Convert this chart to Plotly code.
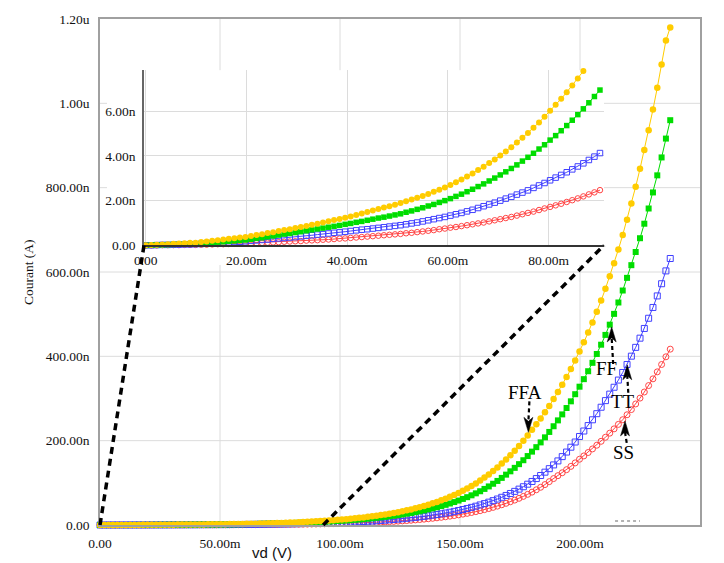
import plotly.graph_objects as go

# ---------------- data (x in mV, current in nA) ----------------
X_MAIN_MV = [0.0, 1.8, 3.6, 5.4, 7.2, 9.0, 10.8, 12.6, 14.4, 16.2,
             18.0, 19.8, 21.6, 23.4, 25.2, 27.0, 28.8, 30.6, 32.4, 34.2,
             36.0, 37.8, 39.6, 41.4, 43.2, 45.0, 46.8, 48.6, 50.4, 52.2,
             54.0, 55.8, 57.6, 59.4, 61.2, 63.0, 64.8, 66.6, 68.4, 70.2,
             72.0, 73.8, 75.6, 77.4, 79.2, 81.0, 82.8, 84.6, 86.4, 88.2,
             90.0, 91.8, 93.6, 95.4, 97.2, 99.0, 100.8, 102.6, 104.4, 106.2,
             108.0, 109.8, 111.6, 113.4, 115.2, 117.0, 118.8, 120.6, 122.4, 124.2,
             126.0, 127.8, 129.6, 131.4, 133.2, 135.0, 136.8, 138.6, 140.4, 142.2,
             144.0, 145.8, 147.6, 149.4, 151.2, 153.0, 154.8, 156.6, 158.4, 160.2,
             162.0, 163.8, 165.6, 167.4, 169.2, 171.0, 172.8, 174.6, 176.4, 178.2,
             180.0, 181.8, 183.6, 185.4, 187.2, 189.0, 190.8, 192.6, 194.4, 196.2,
             198.0, 199.8, 201.6, 203.4, 205.2, 207.0, 208.8, 210.6, 212.4, 214.2,
             216.0, 217.8, 219.6, 221.4, 223.2, 225.0, 226.8, 228.6, 230.4, 232.2,
             234.0, 235.8, 237.6]

FFA_MAIN_NA = [0, 0.02, 0.04, 0.06, 0.09, 0.11, 0.14, 0.19, 0.23, 0.28,
               0.33, 0.37, 0.44, 0.52, 0.59, 0.66, 0.73, 0.81, 0.89, 0.98,
               1.06, 1.15, 1.23, 1.33, 1.44, 1.55, 1.66, 1.77, 1.87, 2.00,
               2.14, 2.28, 2.43, 2.59, 2.78, 2.99, 3.21, 3.45, 3.71, 3.98,
               4.29, 4.62, 4.97, 5.35, 5.76, 6.19, 6.64, 7.12, 7.64, 8.20,
               8.80, 9.39, 10.03, 10.71, 11.43, 12.20, 13.03, 13.90, 14.84, 15.85,
               16.92, 18.06, 19.28, 20.58, 21.97, 23.45, 25.03, 26.72, 28.53, 30.45,
               32.51, 34.71, 37.05, 39.55, 42.22, 45.07, 48.11, 51.36, 54.83, 58.53,
               62.48, 66.70, 71.20, 76.01, 81.14, 86.62, 92.47, 98.71, 105.4, 112.5,
               120.0, 128.1, 136.6, 145.8, 155.5, 165.7, 176.3, 187.6, 199.7, 212.5,
               226.1, 239.0, 252.7, 267.2, 282.5, 298.7, 315.5, 332.7, 350.8, 369.9,
               390.1, 411.4, 433.5, 456.3, 480.4, 505.6, 532.2, 560.3, 589.8, 620.8,
               653.5, 687.9, 724.1, 762.2, 802.3, 844.6, 889.1, 935.9, 985.1, 1037.0,
               1092.0, 1149.0, 1180.0]

FF_MAIN_NA = [0, 0.01, 0.02, 0.04, 0.05, 0.06, 0.08, 0.11, 0.14, 0.17,
              0.21, 0.24, 0.29, 0.36, 0.42, 0.48, 0.54, 0.60, 0.67, 0.74,
              0.80, 0.87, 0.94, 1.01, 1.09, 1.17, 1.24, 1.32, 1.40, 1.51,
              1.62, 1.74, 1.86, 2.00, 2.15, 2.32, 2.50, 2.69, 2.90, 3.13,
              3.36, 3.62, 3.89, 4.18, 4.50, 4.84, 5.19, 5.58, 5.99, 6.43,
              6.90, 7.36, 7.85, 8.37, 8.93, 9.53, 10.16, 10.84, 11.56, 12.33,
              13.15, 14.03, 14.96, 15.96, 17.02, 18.16, 19.37, 20.66, 22.04, 23.50,
              25.07, 26.74, 28.52, 30.42, 32.45, 34.61, 36.92, 39.38, 42.00, 44.80,
              47.79, 50.97, 54.37, 57.99, 61.86, 65.98, 70.38, 75.07, 80.07, 85.6,
              91.5, 97.8, 104.5, 111.7, 119.4, 127.3, 135.5, 144.3, 153.6, 163.5,
              174.0, 184.6, 195.9, 207.9, 220.7, 234.2, 248.1, 262.3, 277.4, 293.3,
              310.2, 328.0, 345.9, 364.7, 384.6, 405.6, 427.6, 450.8, 475.1, 500.7,
              527.7, 556.1, 586.1, 616.2, 647.4, 680.1, 714.5, 750.6, 788.7, 829.2,
              871.7, 916.4, 960.0]

TT_MAIN_NA = [0, 0.01, 0.02, 0.03, 0.04, 0.04, 0.06, 0.08, 0.11, 0.13,
              0.15, 0.18, 0.21, 0.25, 0.28, 0.32, 0.36, 0.39, 0.44, 0.48,
              0.52, 0.57, 0.61, 0.66, 0.70, 0.75, 0.80, 0.84, 0.89, 0.96,
              1.03, 1.10, 1.18, 1.27, 1.37, 1.47, 1.59, 1.71, 1.84, 1.98,
              2.13, 2.28, 2.44, 2.61, 2.79, 2.98, 3.18, 3.39, 3.61, 3.85,
              4.10, 4.37, 4.66, 4.98, 5.31, 5.66, 6.04, 6.44, 6.87, 7.33,
              7.82, 8.34, 8.89, 9.49, 10.12, 10.79, 11.51, 12.28, 13.10, 13.97,
              14.90, 15.89, 16.95, 18.08, 19.29, 20.57, 21.94, 23.41, 24.97, 26.63,
              28.40, 30.30, 32.32, 34.47, 36.77, 39.22, 41.83, 44.62, 47.59, 50.76,
              54.15, 57.76, 61.61, 65.71, 70.09, 74.76, 79.75, 85.06, 90.73, 96.78,
              103.2, 110.1, 117.4, 125.3, 133.6, 142.5, 152.0, 162.2, 173.0, 184.5,
              196.8, 209.9, 222.9, 235.8, 249.5, 264.0, 279.3, 295.0, 310.4, 326.7,
              343.7, 361.7, 380.7, 400.4, 421.3, 443.1, 466.1, 490.3, 515.9, 543.3,
              572.2, 602.6, 632.0]

SS_MAIN_NA = [0, 0.00, 0.01, 0.01, 0.01, 0.02, 0.02, 0.04, 0.05, 0.06,
              0.07, 0.08, 0.10, 0.11, 0.13, 0.15, 0.17, 0.19, 0.21, 0.24,
              0.26, 0.29, 0.31, 0.35, 0.38, 0.41, 0.44, 0.47, 0.51, 0.55,
              0.59, 0.64, 0.69, 0.75, 0.81, 0.87, 0.93, 1.00, 1.08, 1.16,
              1.24, 1.33, 1.43, 1.54, 1.65, 1.76, 1.88, 2.01, 2.15, 2.29,
              2.45, 2.63, 2.81, 3.02, 3.23, 3.46, 3.71, 3.98, 4.26, 4.57,
              4.89, 5.24, 5.62, 6.02, 6.45, 6.92, 7.41, 7.94, 8.51, 9.12,
              9.78, 10.48, 11.23, 12.03, 12.89, 13.82, 14.81, 15.87, 17.00, 18.22,
              19.53, 20.93, 22.43, 24.03, 25.75, 27.60, 29.58, 31.70, 33.97, 36.40,
              39.01, 41.80, 44.80, 48.01, 51.45, 55.13, 59.08, 63.31, 67.85, 72.71,
              77.92, 83.50, 89.48, 95.89, 102.8, 110.1, 117.0, 123.9, 131.2, 139.0,
              147.3, 156.0, 163.8, 171.9, 180.4, 189.2, 198.5, 208.1, 217.8, 228.0,
              238.6, 249.7, 261.4, 273.8, 287.1, 300.9, 315.4, 330.7, 346.6, 363.2,
              380.6, 398.9, 417.0]

X_INSET_MV = [0.0, 1.1, 2.2, 3.3, 4.4, 5.5, 6.6, 7.7, 8.8, 9.9,
              11.0, 12.1, 13.2, 14.3, 15.4, 16.5, 17.6, 18.7, 19.8, 20.9,
              22.0, 23.1, 24.2, 25.3, 26.4, 27.5, 28.6, 29.7, 30.8, 31.9,
              33.0, 34.1, 35.2, 36.3, 37.4, 38.5, 39.6, 40.7, 41.8, 42.9,
              44.0, 45.1, 46.2, 47.3, 48.4, 49.5, 50.6, 51.7, 52.8, 53.9,
              55.0, 56.1, 57.2, 58.3, 59.4, 60.5, 61.6, 62.7, 63.8, 64.9,
              66.0, 67.1, 68.2, 69.3, 70.4, 71.5, 72.6, 73.7, 74.8, 75.9,
              77.0, 78.1, 79.2, 80.3, 81.4, 82.5, 83.6, 84.7, 85.8, 86.9,
              88.0, 89.1, 90.2]

FFA_INSET_NA = [0, 0.01, 0.03, 0.04, 0.05, 0.07, 0.08, 0.09, 0.11, 0.12,
                0.15, 0.17, 0.20, 0.23, 0.26, 0.29, 0.32, 0.35, 0.37, 0.42,
                0.46, 0.50, 0.55, 0.59, 0.64, 0.68, 0.72, 0.77, 0.82, 0.87,
                0.92, 0.97, 1.02, 1.08, 1.13, 1.18, 1.23, 1.29, 1.36, 1.42,
                1.49, 1.56, 1.62, 1.69, 1.75, 1.82, 1.89, 1.97, 2.05, 2.13,
                2.21, 2.30, 2.40, 2.49, 2.59, 2.70, 2.82, 2.95, 3.08, 3.22,
                3.37, 3.52, 3.68, 3.84, 4.02, 4.20, 4.39, 4.60, 4.81, 5.03,
                5.26, 5.50, 5.76, 6.02, 6.29, 6.56, 6.85, 7.15, 7.47, 7.80,
                8.14, 8.50, 8.86]

FF_INSET_NA = [0, 0.01, 0.02, 0.02, 0.03, 0.04, 0.05, 0.05, 0.06, 0.07,
               0.09, 0.11, 0.12, 0.14, 0.16, 0.18, 0.20, 0.22, 0.24, 0.27,
               0.31, 0.34, 0.38, 0.42, 0.46, 0.50, 0.53, 0.57, 0.61, 0.65,
               0.69, 0.73, 0.77, 0.81, 0.85, 0.89, 0.94, 0.98, 1.03, 1.07,
               1.12, 1.17, 1.22, 1.26, 1.31, 1.36, 1.41, 1.48, 1.54, 1.61,
               1.68, 1.76, 1.83, 1.92, 2.00, 2.09, 2.19, 2.29, 2.40, 2.51,
               2.63, 2.75, 2.88, 3.01, 3.15, 3.29, 3.44, 3.60, 3.77, 3.94,
               4.12, 4.31, 4.50, 4.71, 4.91, 5.13, 5.36, 5.60, 5.85, 6.11,
               6.38, 6.66, 6.95]

TT_INSET_NA = [0, 0.00, 0.01, 0.02, 0.02, 0.03, 0.03, 0.04, 0.04, 0.05,
               0.06, 0.08, 0.09, 0.11, 0.12, 0.13, 0.15, 0.16, 0.18, 0.20,
               0.22, 0.24, 0.26, 0.29, 0.31, 0.33, 0.35, 0.37, 0.40, 0.43,
               0.45, 0.48, 0.50, 0.53, 0.56, 0.58, 0.61, 0.64, 0.67, 0.70,
               0.72, 0.75, 0.78, 0.81, 0.84, 0.87, 0.90, 0.94, 0.98, 1.02,
               1.07, 1.12, 1.17, 1.22, 1.27, 1.33, 1.39, 1.45, 1.52, 1.59,
               1.67, 1.75, 1.83, 1.91, 2.00, 2.09, 2.17, 2.27, 2.36, 2.46,
               2.57, 2.68, 2.79, 2.91, 3.03, 3.15, 3.27, 3.40, 3.53, 3.67,
               3.82, 3.97, 4.13]

SS_INSET_NA = [0, 0.00, 0.00, 0.01, 0.01, 0.01, 0.01, 0.02, 0.02, 0.02,
               0.03, 0.03, 0.04, 0.05, 0.05, 0.06, 0.07, 0.07, 0.08, 0.09,
               0.10, 0.11, 0.12, 0.13, 0.14, 0.16, 0.17, 0.18, 0.19, 0.21,
               0.22, 0.23, 0.25, 0.26, 0.28, 0.30, 0.31, 0.33, 0.35, 0.37,
               0.39, 0.41, 0.43, 0.45, 0.47, 0.49, 0.51, 0.54, 0.56, 0.59,
               0.62, 0.65, 0.68, 0.72, 0.75, 0.79, 0.82, 0.86, 0.90, 0.94,
               0.98, 1.02, 1.07, 1.12, 1.17, 1.22, 1.27, 1.33, 1.39, 1.45,
               1.51, 1.58, 1.65, 1.72, 1.79, 1.86, 1.94, 2.02, 2.10, 2.19,
               2.28, 2.37, 2.47]

SERIES_NAMES = ["SS", "TT", "FF", "FFA"]
MAIN_VALUES = {"SS": SS_MAIN_NA, "TT": TT_MAIN_NA, "FF": FF_MAIN_NA, "FFA": FFA_MAIN_NA}
INSET_VALUES = {"SS": SS_INSET_NA, "TT": TT_INSET_NA, "FF": FF_INSET_NA, "FFA": FFA_INSET_NA}

X_TICKS_MV = [0, 50, 100, 150, 200, 250]
X_TICK_TEXT = ["0.00", "50.00m", "100.00m", "150.00m", "200.00m", "250.00m"]
Y_TICKS_NA = [0, 200, 400, 600, 800, 1000, 1200]
Y_TICK_TEXT = ["0.00", "200.00n", "400.00n", "600.00n", "800.00n", "1.00u", "1.20u"]
X2_TICKS_MV = [0, 20, 40, 60, 80]
X2_TICK_TEXT = ["0.00", "20.00m", "40.00m", "60.00m", "80.00m"]
Y2_TICKS_NA = [0, 2, 4, 6]
Y2_TICK_TEXT = ["0.00", "2.00n", "4.00n", "6.00n"]

# ---------------- styling / layout ----------------
STYLE = {
    "SS": dict(color="#FF4545", symbol="circle-open", size=6),
    "TT": dict(color="#4040FF", symbol="square-open", size=6),
    "FF": dict(color="#00DD00", symbol="square", size=6),
    "FFA": dict(color="#FFCC00", symbol="circle", size=6.5),
}

W, H = 724, 563
ML, MR, MT, MB = 100, 24, 15, 36
PW, PH = W - ML - MR, H - MT - MB

X_RANGE = [0, 250]
Y_RANGE = [0, 1200]
X2_RANGE = [-0.34, 91.0]
Y2_RANGE = [0, 7.83]

# inset box in pixels
IN_L, IN_R, IN_T, IN_B = 144, 604, 67, 244
def px_to_paper_x(px):
    return (px - ML) / PW
def px_to_paper_y(py):
    return (H - MB - py) / PH

X2_DOMAIN = [px_to_paper_x(IN_L), px_to_paper_x(IN_R)]
Y2_DOMAIN = [px_to_paper_y(IN_B), px_to_paper_y(IN_T)]

SERIF = "Liberation Serif"
SANS = "Liberation Sans"

fig = go.Figure()

for name in SERIES_NAMES:
    st = STYLE[name]
    open_marker = st["symbol"].endswith("open")
    marker = dict(symbol=st["symbol"], size=st["size"], color=st["color"],
                  line=dict(width=1 if open_marker else 0, color=st["color"]))
    fig.add_trace(go.Scatter(
        x=X_MAIN_MV, y=MAIN_VALUES[name], mode="lines+markers", name=name,
        line=dict(color=st["color"], width=1), marker=marker,
        cliponaxis=False, xaxis="x", yaxis="y", showlegend=False))

for name in SERIES_NAMES:
    st = STYLE[name]
    open_marker = st["symbol"].endswith("open")
    marker = dict(symbol=st["symbol"], size=st["size"] - 0.5, color=st["color"],
                  line=dict(width=1 if open_marker else 0, color=st["color"]))
    xs, ys = [], []
    for xv, yv in zip(X_INSET_MV, INSET_VALUES[name]):
        if yv <= Y2_RANGE[1]:
            xs.append(xv)
            ys.append(yv)
    fig.add_trace(go.Scatter(
        x=xs, y=ys, mode="lines+markers", name=name + " (zoom)",
        line=dict(color=st["color"], width=1), marker=marker,
        cliponaxis=False, xaxis="x2", yaxis="y2", showlegend=False))

shapes = []
GRID = "#dcdcdc"
# main grid lines (as lower-layer shapes so that the inset panel can hide them)
for xv in X_TICKS_MV[1:-1]:
    shapes.append(dict(type="line", xref="x", yref="paper", x0=xv, x1=xv, y0=0, y1=1,
                       line=dict(color=GRID, width=1), layer="below"))
for yv in Y_TICKS_NA[1:-1]:
    shapes.append(dict(type="line", xref="paper", yref="y", x0=0, x1=1, y0=yv, y1=yv,
                       line=dict(color=GRID, width=1), layer="below"))
# white panel behind the inset (covers its tick labels too)
shapes.append(dict(type="rect", xref="paper", yref="paper",
                   x0=px_to_paper_x(107), x1=X2_DOMAIN[1],
                   y0=px_to_paper_y(264), y1=Y2_DOMAIN[1],
                   fillcolor="white", line=dict(width=0), layer="below"))
# zoom connector lines
zoom_dash = "7px,5px"
shapes.append(dict(type="line", xref="paper", yref="paper",
                   x0=(0 - X_RANGE[0]) / (X_RANGE[1] - X_RANGE[0]), y0=0,
                   x1=X2_DOMAIN[0], y1=Y2_DOMAIN[0],
                   line=dict(color="black", width=3.5, dash=zoom_dash), layer="above"))
shapes.append(dict(type="line", xref="paper", yref="paper",
                   x0=(X2_RANGE[1] + 2 - X_RANGE[0]) / (X_RANGE[1] - X_RANGE[0]), y0=0,
                   x1=X2_DOMAIN[1], y1=Y2_DOMAIN[0],
                   line=dict(color="black", width=3.5, dash=zoom_dash), layer="above"))
# small grey dash remnant near the bottom right
shapes.append(dict(type="line", xref="x", yref="y", x0=214.6, x1=225.0, y0=9.4, y1=9.4,
                   line=dict(color="#9a9a9a", width=1.5, dash="3px,3px")))

annotations = []
# corner labels with dashed arrows: tip (data), text offset (px, +down), tail offset (px, +down)
LABELS = [
    ("FFA", 178.5, 219.7, (-3.3, -40), (1.0, -31)),
    ("FF", 213.2, 469.7, (-5.0, 41.5), (1.5, 37)),
    ("TT", 219.7, 379.9, (-4.0, 36.7), (1.0, 28)),
    ("SS", 218.75, 246.9, (-1.7, 31.6), (1.7, 22)),
]
HEAD_LEN, HEAD_HALF, HEAD_NOTCH = 15, 4.5, 11
for text, tx, ty, (tdx, tdy), (sdx, sdy) in LABELS:
    annotations.append(dict(x=tx, y=ty, xref="x", yref="y", text=text, showarrow=False,
                            xshift=tdx, yshift=-tdy,
                            font=dict(family=SERIF, size=19, color="black")))
    sgn = 1 if sdy < 0 else -1  # +1: tail above tip (arrow points down)
    # dashed shaft
    shapes.append(dict(type="line", xref="x", yref="y", xsizemode="pixel", ysizemode="pixel",
                       xanchor=tx, yanchor=ty, x0=sdx, x1=0, y0=-sdy, y1=sgn * HEAD_NOTCH,
                       line=dict(color="black", width=2.2, dash="4px,3px"), layer="above"))
    # notched arrow head (pixel path relative to the tip)
    path = (f"M0,0 L{HEAD_HALF},{sgn * HEAD_LEN} L0,{sgn * HEAD_NOTCH} "
            f"L{-HEAD_HALF},{sgn * HEAD_LEN} Z")
    shapes.append(dict(type="path", xref="x", yref="y", xsizemode="pixel", ysizemode="pixel",
                       xanchor=tx, yanchor=ty, path=path, fillcolor="black",
                       line=dict(color="black", width=0.5), layer="above"))

annotations.append(dict(x=px_to_paper_x(28), y=0.5, xref="paper", yref="paper",
                        text="Courant (A)", textangle=-90, showarrow=False,
                        xanchor="center", yanchor="middle",
                        font=dict(family=SERIF, size=13.5, color="#111")))
annotations.append(dict(x=px_to_paper_x(272), y=px_to_paper_y(555), xref="paper", yref="paper",
                        text="vd (V)", showarrow=False, xanchor="center", yanchor="middle",
                        font=dict(family=SANS, size=15, color="#111")))

tickfont = dict(family=SERIF, size=13.5, color="#111")
fig.update_layout(
    width=W, height=H, autosize=False,
    margin=dict(l=ML, r=MR, t=MT, b=MB, pad=0),
    paper_bgcolor="white", plot_bgcolor="white",
    showlegend=False,
    xaxis=dict(range=X_RANGE, domain=[0, 1], tickmode="array", tickvals=X_TICKS_MV,
               ticktext=X_TICK_TEXT, showgrid=False, zeroline=False,
               showline=True, linecolor="#a0a0a0", linewidth=1.5, mirror=True,
               ticks="", ticklabelstandoff=5, tickfont=tickfont),
    yaxis=dict(range=Y_RANGE, domain=[0, 1], tickmode="array", tickvals=Y_TICKS_NA,
               ticktext=Y_TICK_TEXT, showgrid=False, zeroline=False,
               showline=True, linecolor="#a0a0a0", linewidth=1.5, mirror=True,
               ticks="", ticklabelstandoff=6, tickfont=tickfont),
    xaxis2=dict(range=X2_RANGE, domain=X2_DOMAIN, anchor="y2", tickmode="array",
                tickvals=X2_TICKS_MV, ticktext=X2_TICK_TEXT, showgrid=True, gridcolor=GRID,
                zeroline=False, showline=True, linecolor="#333333", linewidth=1.5,
                ticks="", ticklabelstandoff=2, tickfont=tickfont),
    yaxis2=dict(range=Y2_RANGE, domain=Y2_DOMAIN, anchor="x2", tickmode="array",
                tickvals=Y2_TICKS_NA, ticktext=Y2_TICK_TEXT, showgrid=True, gridcolor=GRID,
                zeroline=False, showline=True, linecolor="#666666", linewidth=1.5,
                ticks="", ticklabelstandoff=4, tickfont=tickfont),
    shapes=shapes,
    annotations=annotations,
)

fig.write_html("out.html", config={"displayModeBar": False},
               post_script="document.body.style.margin='0';document.body.style.overflow='hidden';")
